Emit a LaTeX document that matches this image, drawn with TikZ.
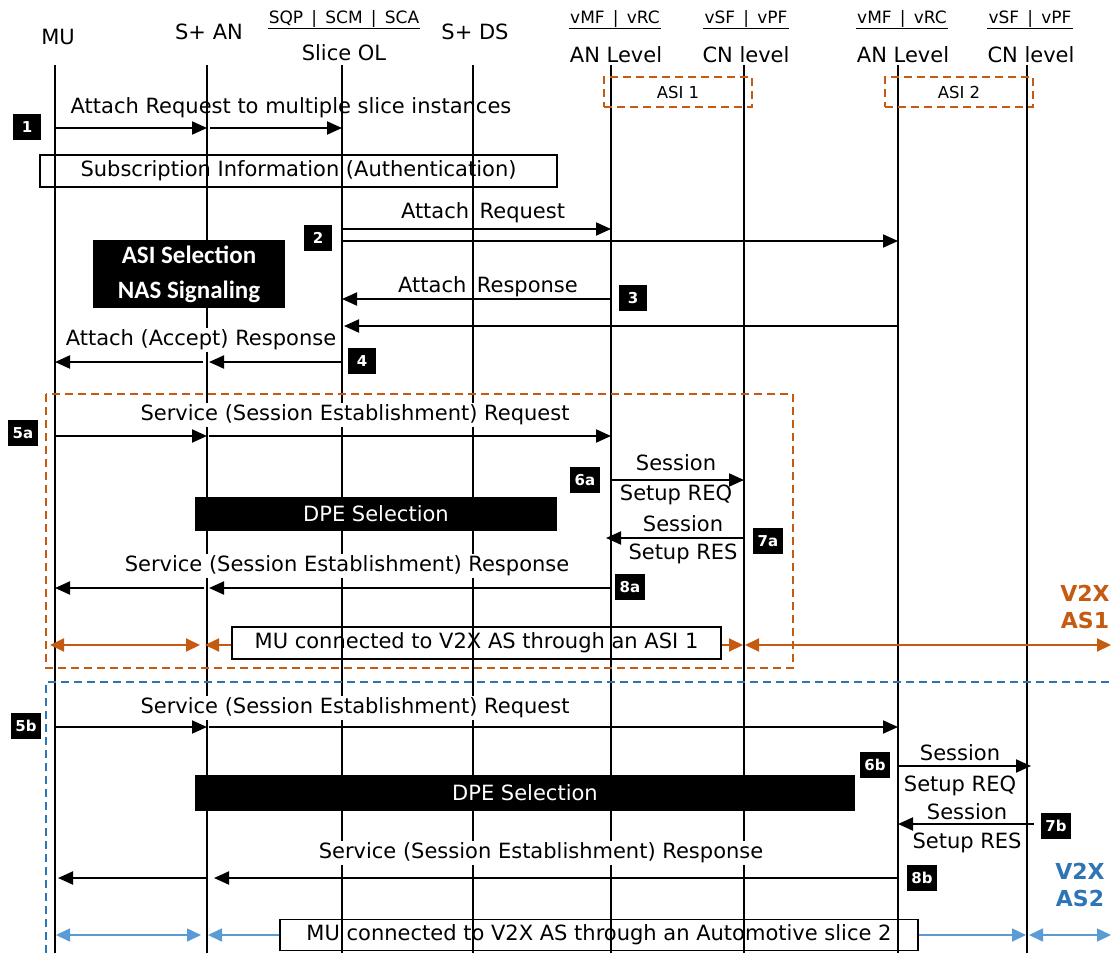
\documentclass[tikz,border=0pt]{standalone}
\usepackage{fontspec}
\setmainfont{DejaVu Sans}
\newfontfamily\carl{Carlito}
\usetikzlibrary{arrows.meta}
\definecolor{orng}{HTML}{C55A11}
\definecolor{lblue}{HTML}{5B9BD5}
\definecolor{dblue}{HTML}{2E75B6}
\begin{document}
\begin{tikzpicture}[x=1pt,y=-1pt,
  lifeline/.style={line width=1.6pt},
  msg/.style={line width=2pt,-{Triangle[length=15pt,width=13pt]}},
  oarr/.style={line width=2pt,orng,{Triangle[length=14pt,width=13pt]}-{Triangle[length=14pt,width=13pt]}},
  oarrR/.style={line width=2pt,orng,-{Triangle[length=14pt,width=13pt]}},
  barr/.style={line width=1.6pt,lblue,{Triangle[length=14pt,width=13pt]}-{Triangle[length=14pt,width=13pt]}},
  barrR/.style={line width=1.6pt,lblue,-{Triangle[length=14pt,width=13pt]}},
  badge/.style={fill=black,text=white,font=\bfseries\fontsize{15}{15}\selectfont,minimum width=28pt,minimum height=26pt,inner sep=0pt},
  lbl/.style={font=\fontsize{21}{21}\selectfont,inner sep=1pt},
  wlbl/.style={lbl,fill=white,inner sep=2pt},
  hdr/.style={font=\fontsize{21}{21}\selectfont,inner sep=0pt},
  shdr/.style={font=\fontsize{17}{17}\selectfont,inner sep=1pt},
  blackbox/.style={fill=black,text=white,inner sep=0pt},
  frame/.style={draw=black,line width=1.2pt,inner sep=0pt},
  dsh/.style={dash pattern=on 8pt off 5pt},
  asibox/.style={draw=orng,dsh,line width=1.4pt,inner sep=0pt,font=\fontsize{16.5}{16.5}\selectfont},
]
\useasboundingbox (0,0) rectangle (1113,953);
\fill[white] (0,0) rectangle (1113,953);

% lifeline tops
\coordinate (MU) at (55,65);
\coordinate (SAN) at (207,65);
\coordinate (SOL) at (342,65);
\coordinate (SDS) at (473,65);
\coordinate (AN1) at (611,65);
\coordinate (CN1) at (744,65);
\coordinate (AN2) at (898,65);
\coordinate (CN2) at (1027,65);
\coordinate (bot) at (0,953);
\coordinate (rgt) at (1111,0);
\coordinate (sepL) at (46,953);
\coordinate (sepC) at (46,682);
\coordinate (sepR) at (1113,682);

% headers
\node[hdr] (hMU) at (58,37) {MU};
\node[hdr] (hSAN) at (209,32) {S+ AN};
\node[shdr] (hSQP) at (344,19) {SQP \,|\, SCM \,|\, SCA};
\draw[line width=1pt] (hSQP.south west) -- (hSQP.south east);
\node[hdr] (hSOL) at (344,53) {Slice OL};
\node[hdr] (hSDS) at (475,32) {S+ DS};
\node[shdr] (hV1) at (615,19) {vMF \,|\, vRC};
\draw[line width=1pt] (hV1.south west) -- (hV1.south east);
\node[hdr] (hAN1) at (616,55) {AN Level};
\node[shdr] (hS1) at (746,19) {vSF \,|\, vPF};
\draw[line width=1pt] (hS1.south west) -- (hS1.south east);
\node[hdr] (hCN1) at (746,55) {CN level};
\node[shdr] (hV2) at (902,19) {vMF \,|\, vRC};
\draw[line width=1pt] (hV2.south west) -- (hV2.south east);
\node[hdr] (hAN2) at (903,55) {AN Level};
\node[shdr] (hS2) at (1030,19) {vSF \,|\, vPF};
\draw[line width=1pt] (hS2.south west) -- (hS2.south east);
\node[hdr] (hCN2) at (1031,55) {CN level};

% lifelines
\foreach \l in {MU,SAN,SOL,SDS,AN1,CN1,AN2,CN2}
  \draw[lifeline] (\l) -- (\l |- bot);

% ASI boxes
\node[asibox,minimum width=148pt,minimum height=30pt] (asi1) at (678,92) {ASI 1};
\node[asibox,minimum width=148pt,minimum height=30pt] (asi2) at (959,92) {ASI 2};

% row coordinates
\coordinate (r1) at (0,128);
\coordinate (r2a) at (0,229);
\coordinate (r2b) at (0,241);
\coordinate (r3a) at (0,299);
\coordinate (r3b) at (0,326);
\coordinate (r4) at (0,362);
\coordinate (r5a) at (0,436);
\coordinate (r6a) at (0,480);
\coordinate (r7a) at (0,538);
\coordinate (r8a) at (0,588);
\coordinate (ro) at (0,645);
\coordinate (r5b) at (0,727);
\coordinate (r6b) at (0,766);
\coordinate (r7b) at (0,824);
\coordinate (r8b) at (0,878);
\coordinate (rb) at (0,935);

% step 1
\node[lbl] (t1) at (291,108) {Attach Request to multiple slice instances};
\draw[msg] (MU |- r1) -- (SAN |- r1);
\draw[msg] ([xshift=3pt]SAN |- r1) -- (SOL |- r1);
\node[badge] (b1) at (27,127) {1};

\node[frame,minimum width=517pt,minimum height=32pt,lbl] (sub) at (298.5,171) {Subscription Information (Authentication)};

% step 2
\node[lbl] (t2) at (483,213) {Attach\enspace Request};
\draw[msg] (SOL |- r2a) -- (AN1 |- r2a);
\draw[msg] (SOL |- r2b) -- (AN2 |- r2b);
\node[badge] (b2) at (318,238) {2};

% ASI selection box
\node[blackbox,minimum width=192pt,minimum height=68pt,align=center,font=\carl\bfseries\fontsize{25}{35}\selectfont] (asisel) at (189,274) {ASI Selection\\NAS Signaling};

% step 3
\node[lbl] (t3) at (488,287) {Attach\enspace Response};
\draw[msg] (AN1 |- r3a) -- (SOL |- r3a);
\draw[msg] (AN2 |- r3b) -- ([xshift=2pt]SOL |- r3b);
\node[badge] (b3) at (633,298) {3};

% step 4
\node[wlbl] (t4) at (201,340) {Attach (Accept) Response};
\draw[msg] (SOL |- r4) -- ([xshift=2pt]SAN |- r4);
\draw[msg] ([xshift=-4pt]SAN |- r4) -- (MU |- r4);
\node[badge] (b4) at (362,361) {4};

% orange frame
\draw[orng,dsh,line width=1.4pt] (46,394) rectangle (793,668);

% step 5a
\node[wlbl] (t5a) at (355,415) {Service (Session Establishment) Request};
\draw[msg] (MU |- r5a) -- (SAN |- r5a);
\draw[msg] ([xshift=2pt]SAN |- r5a) -- (AN1 |- r5a);
\node[badge,minimum width=30pt] (b5a) at (23,433) {5a};

% step 6a
\node[lbl] (t6a) at (676,463) {Session};
\node[lbl] (t6a2) at (676,495) {Setup REQ};
\draw[msg] (AN1 |- r6a) -- (CN1 |- r6a);
\node[badge,minimum width=30pt] (b6a) at (585,480) {6a};

% DPE 1
\node[blackbox,minimum width=362pt,minimum height=34pt,font=\fontsize{21}{21}\selectfont] (dpe1) at (376,514) {DPE Selection};

% step 7a
\node[lbl] (t7a) at (683,524) {Session};
\node[lbl] (t7a2) at (683,554) {Setup RES};
\draw[msg] (CN1 |- r7a) -- ([xshift=-5pt]AN1 |- r7a);
\node[badge,minimum width=30pt] (b7a) at (768,541) {7a};

% step 8a
\node[wlbl] (t8a) at (347,566) {Service (Session Establishment) Response};
\draw[msg] (AN1 |- r8a) -- ([xshift=2pt]SAN |- r8a);
\draw[msg] ([xshift=-3pt]SAN |- r8a) -- (MU |- r8a);
\node[badge,minimum width=30pt] (b8a) at (630,587) {8a};

% orange connection row
\node[frame,minimum width=489pt,minimum height=32pt,lbl] (con1) at (476.5,643) {MU connected to V2X AS through an ASI 1};
\draw[oarr] ([xshift=-5pt]MU |- ro) -- ([xshift=-7pt]SAN |- ro);
\draw[oarrR] (con1.west |- ro) -- ([xshift=-2pt]SAN |- ro);
\draw[oarrR] (con1.east |- ro) -- ([xshift=-1pt]CN1 |- ro);
\draw[oarr] ([xshift=1pt]CN1 |- ro) -- (rgt |- ro);
\node[orng,font=\bfseries\fontsize{22}{27}\selectfont,align=center] (v2x1) at (1085,607) {V2X\\AS1};

% blue separator
\draw[dblue,dsh,line width=1.4pt] (sepL) -- (sepC) -- (sepR);

% step 5b
\node[wlbl] (t5b) at (355,708) {Service (Session Establishment) Request};
\draw[msg] (MU |- r5b) -- (SAN |- r5b);
\draw[msg] ([xshift=2pt]SAN |- r5b) -- (AN2 |- r5b);
\node[badge,minimum width=30pt] (b5b) at (26,726) {5b};

% step 6b
\node[lbl] (t6b) at (960,753) {Session};
\node[lbl] (t6b2) at (960,786) {Setup REQ};
\draw[msg] (AN2 |- r6b) -- ([xshift=4pt]CN2 |- r6b);
\node[badge,minimum width=30pt] (b6b) at (875,765) {6b};

% DPE 2
\node[blackbox,minimum width=660pt,minimum height=36pt,font=\fontsize{21}{21}\selectfont] (dpe2) at (525,793) {DPE Selection};

% step 7b
\node[lbl] (t7b) at (967,812) {Session};
\node[lbl] (t7b2) at (967,843) {Setup RES};
\draw[msg] ([xshift=7pt]CN2 |- r7b) -- (AN2 |- r7b);
\node[badge,minimum width=30pt] (b7b) at (1056,826) {7b};

% step 8b
\node[wlbl] (t8b) at (541,853) {Service (Session Establishment) Response};
\draw[msg] (AN2 |- r8b) -- ([xshift=7pt]SAN |- r8b);
\draw[msg] (SAN |- r8b) -- ([xshift=3pt]MU |- r8b);
\node[badge,minimum width=30pt] (b8b) at (922,878) {8b};

% blue connection row
\node[frame,minimum width=638pt,minimum height=31pt,lbl] (con2) at (599,935) {MU connected to V2X AS through an Automotive slice 2};
\draw[barr] ([xshift=1pt]MU |- rb) -- ([xshift=-6pt]SAN |- rb);
\draw[barrR] (con2.west |- rb) -- ([xshift=1pt]SAN |- rb);
\draw[barrR] (con2.east |- rb) -- ([xshift=-1pt]CN2 |- rb);
\draw[barr] ([xshift=2pt]CN2 |- rb) -- (rgt |- rb);
\node[dblue,font=\bfseries\fontsize{22}{27}\selectfont,align=center] (v2x2) at (1080,885) {V2X\\AS2};

\end{tikzpicture}
\end{document}
